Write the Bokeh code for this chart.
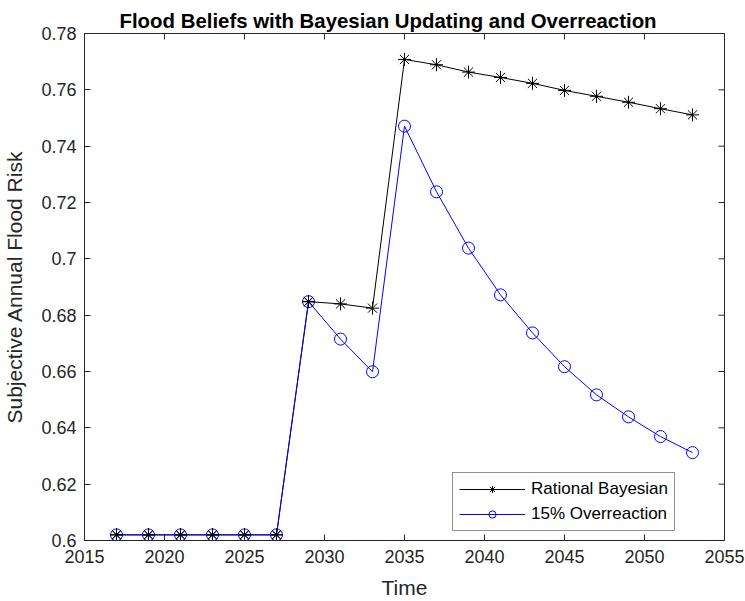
import math
from bokeh.plotting import figure
from bokeh.models import FixedTicker, Legend, LegendItem, Range1d, Title
from bokeh.embed import file_html
from bokeh.resources import INLINE

# ---- data ----
years = [2017, 2019, 2021, 2023, 2025, 2027, 2029, 2031, 2033, 2035,
         2037, 2039, 2041, 2043, 2045, 2047, 2049, 2051, 2053]
rational = [0.602, 0.602, 0.602, 0.602, 0.602, 0.602, 0.6848, 0.6840, 0.6825, 0.7708,
            0.7689, 0.7663, 0.7644, 0.7623, 0.7598, 0.7577, 0.7556, 0.7533, 0.7511]
overreaction = [0.602, 0.602, 0.602, 0.602, 0.602, 0.602, 0.6848, 0.6715, 0.6599, 0.7471,
                0.7238, 0.7038, 0.6872, 0.6737, 0.6617, 0.6517, 0.6439, 0.6369, 0.6312]
series_names = ["Rational Bayesian", "15% Overreaction"]
x_ticks = [2015, 2020, 2025, 2030, 2035, 2040, 2045, 2050, 2055]
y_ticks = [0.6, 0.62, 0.64, 0.66, 0.68, 0.7, 0.72, 0.74, 0.76, 0.78]
y_tick_labels = ["0.6", "0.62", "0.64", "0.66", "0.68", "0.7", "0.72", "0.74", "0.76", "0.78"]

FONT = "Liberation Sans"
AX = "#262626"

p = figure(width=745, height=601, output_backend="svg", toolbar_location=None,
           x_range=Range1d(x_ticks[0], x_ticks[-1]), y_range=Range1d(y_ticks[0], y_ticks[-1]),
           min_border_left=81, min_border_right=21, min_border_top=33, min_border_bottom=60)
p.background_fill_color = "white"
p.border_fill_color = "white"
p.outline_line_color = AX
p.outline_line_width = 1
p.xgrid.visible = False
p.ygrid.visible = False

p.title = Title(text="Flood Beliefs with Bayesian Updating and Overreaction",
                text_font=FONT, text_font_size="20.4px", text_font_style="bold",
                text_color="black", align="left", offset=35, standoff=4)

for ax in (p.xaxis[0], p.yaxis[0]):
    ax.axis_line_color = AX
    ax.major_tick_line_color = AX
    ax.major_tick_in = 6
    ax.major_tick_out = 0
    ax.minor_tick_line_color = None
    ax.major_label_text_font = FONT
    ax.major_label_text_color = AX
    ax.major_label_text_font_size = "18px"
    ax.axis_label_text_font = FONT
    ax.axis_label_text_color = AX
    ax.axis_label_text_font_style = "normal"
    ax.axis_label_text_font_size = "21px"

xax = p.xaxis[0]
yax = p.yaxis[0]
xax.ticker = FixedTicker(ticks=x_ticks)
yax.ticker = FixedTicker(ticks=y_ticks)
yax.major_label_overrides = {t: s for t, s in zip(y_ticks, y_tick_labels)}
xax.axis_label = "Time"
yax.axis_label = "Subjective Annual Flood Risk"
xax.major_label_standoff = 9
xax.axis_label_standoff = 10
yax.major_label_standoff = 8
yax.axis_label_standoff = 12

# inward tick marks on the top and right edges of the box
p.ray(x=x_ticks, y=[p.y_range.end] * len(x_ticks), length=6, length_units="screen",
      angle=-math.pi / 2, line_color=AX, line_width=1)
p.ray(x=[p.x_range.end] * len(y_ticks), y=y_ticks, length=6, length_units="screen",
      angle=math.pi, line_color=AX, line_width=1)

l1 = p.line(years, rational, line_color="black", line_width=1)
s1 = p.scatter(years, rational, marker="asterisk", size=13, line_color="black", line_width=1)
l2 = p.line(years, overreaction, line_color="#0000FF", line_width=1)
s2 = p.scatter(years, overreaction, marker="circle", size=12, line_color="#0000FF",
               fill_color=None, line_width=1)
# asterisks on top where the two series coincide
p.scatter(years[:7], rational[:7], marker="asterisk", size=13, line_color="black", line_width=1)

legend = Legend(items=[LegendItem(label=series_names[0], renderers=[l1, s1]),
                       LegendItem(label=series_names[1], renderers=[l2, s2])],
                location=(368, 9), margin=0, padding=6, spacing=5,
                glyph_width=66, glyph_height=18, label_height=18, label_standoff=6,
                label_text_font=FONT, label_text_font_size="17px", label_text_color="black",
                border_line_color=AX, border_line_width=1, background_fill_color="white",
                background_fill_alpha=1)
p.add_layout(legend, "center")

open("out.html", "w").write(file_html(p, INLINE))
